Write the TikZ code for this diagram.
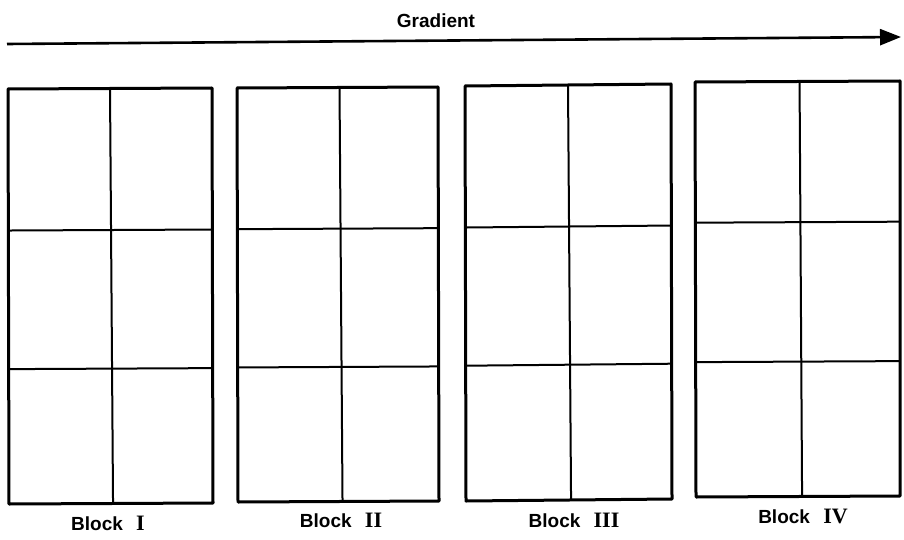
\documentclass[tikz,border=0pt]{standalone}
\usepackage{fontspec}
\setmainfont{Liberation Sans}
\newfontfamily\numfont{Liberation Serif}
\usetikzlibrary{arrows.meta,calc}
\tikzset{
  outerline/.style={line width=3pt, line join=round},
  innerline/.style={line width=2pt},
  lbl/.style={font=\fontsize{19}{22}\selectfont\bfseries, inner sep=0pt},
  gradarrow/.style={line width=2.6pt, -{Triangle[length=21pt,width=16pt]}}
}
\newcommand{\numr}[1]{{\numfont\fontsize{22}{24}\selectfont #1}}
\newcommand{\myblock}[9]{%
  % #1 name, #2 TL, #3 TR, #4 BR, #5 BL, #6 top mid x-frac, #7 bottom mid x-frac, #8 div1 frac, #9 div2 frac
  \coordinate (#1tl) at #2; \coordinate (#1tr) at #3;
  \coordinate (#1br) at #4; \coordinate (#1bl) at #5;
  \draw[outerline] (#1tl) -- (#1tr) -- (#1br) -- (#1bl) -- cycle;
  \draw[innerline] ($(#1tl)!#6!(#1tr)$) -- ($(#1bl)!#7!(#1br)$);
  \draw[innerline] ($(#1tl)!#8!(#1bl)$) -- ($(#1tr)!#8!(#1br)$);
  \draw[innerline] ($(#1tl)!#9!(#1bl)$) -- ($(#1tr)!#9!(#1br)$);
}
\begin{document}
\begin{tikzpicture}[x=1pt,y=-1pt]
\useasboundingbox (0,0) rectangle (904,540);
\node[lbl] (grad) at (436,21) {Gradient};
\coordinate (astart) at (7,44);
\coordinate (aend) at (901,37);
\draw[gradarrow] (astart) -- (aend);
\myblock{a}{(8,89)}{(212,88)}{(213,503)}{(9,504)}{0.50}{0.51}{0.341}{0.675}
\myblock{b}{(237,88)}{(438,87)}{(439,501)}{(238,502)}{0.51}{0.52}{0.341}{0.675}
\myblock{c}{(465,86)}{(671,84)}{(672,499)}{(466,501)}{0.50}{0.51}{0.341}{0.674}
\myblock{d}{(695,82)}{(900,81)}{(900,496)}{(696,497)}{0.51}{0.52}{0.339}{0.675}
\node[lbl] (la) at (108,523) {Block\hspace{0.7em}\numr{I}};
\node[lbl] (lb) at (341,520) {Block\hspace{0.7em}\numr{II}};
\node[lbl] (lc) at (574,520) {Block\hspace{0.7em}\numr{III}};
\node[lbl] (ld) at (803,516) {Block\hspace{0.7em}\numr{IV}};
\end{tikzpicture}
\end{document}
